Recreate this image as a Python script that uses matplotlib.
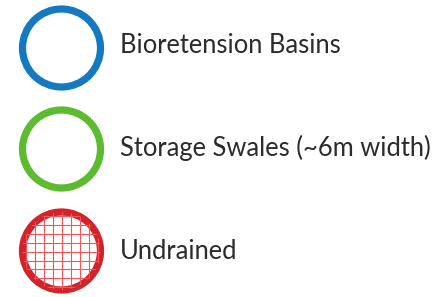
import matplotlib.pyplot as plt
import matplotlib.patches as mpatches
import numpy as np

labels = ["Bioretension Basins", "Storage Swales (~6m width)", "Undrained"]
colors = ["#1479c0", "#5dbb2f", "#d2232a"]
hatched = [False, False, True]

plt.rcParams['font.family'] = ['Lato', 'DejaVu Sans']

fig = plt.figure(figsize=(4.43, 2.97), dpi=100)
ax = fig.add_axes([0, 0, 1, 1])
ax.set_xlim(0, 443)
ax.set_ylim(297, 0)
ax.set_aspect('equal')
ax.axis('off')

cx, r = 61.5, 39
centers = [48, 149, 251]
baselines = [53, 156, 259]

for lab, col, h, cy, by in zip(labels, colors, hatched, centers, baselines):
    if h:
        clip = mpatches.Circle((cx, cy), r, transform=ax.transData)
        for g in np.arange(cx - r + 4, cx + r, 8.9):
            ln = ax.plot([g, g], [cy - r, cy + r], color="#f2555b", lw=0.8)[0]
            ln.set_clip_path(clip)
        for g in np.arange(cy - r + 4, cy + r, 8.9):
            ln = ax.plot([cx - r, cx + r], [g, g], color="#f2555b", lw=0.8)[0]
            ln.set_clip_path(clip)
    ax.add_patch(mpatches.Circle((cx, cy), r, fill=False, ec=col, lw=5.2))
    ax.text(120, by, lab, fontsize=18.4, color="#2b2b2b", va='baseline', ha='left')

fig.savefig("out.png", dpi=100)
